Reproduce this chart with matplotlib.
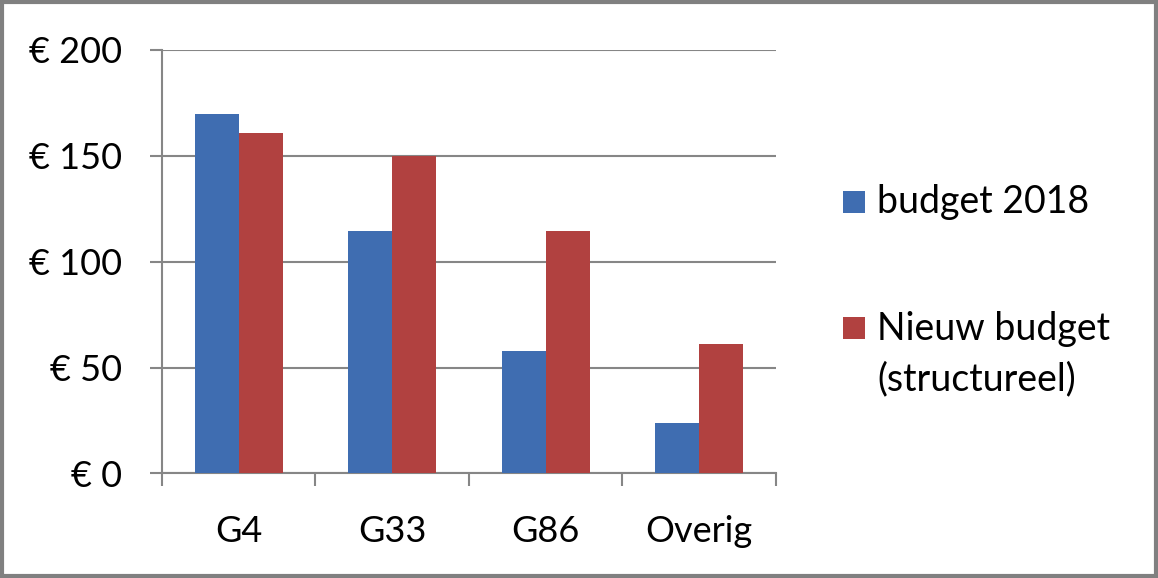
import matplotlib
matplotlib.use("Agg")
import matplotlib.pyplot as plt
import numpy as np
from matplotlib.patches import Rectangle

categories = ["G4", "G33", "G86", "Overig"]
budget_2018 = [170, 114.5, 58, 24]
nieuw_budget = [161, 150, 114.5, 61]
series_labels = ["budget 2018", "Nieuw budget\n(structureel)"]
y_ticks = [0, 50, 100, 150, 200]
y_tick_labels = ["€ 0", "€ 50", "€ 100", "€ 150", "€ 200"]

BLUE = "#3F6DB1"
RED = "#B14140"
GRID = "#868686"

plt.rcParams["font.family"] = ["Lato", "DejaVu Sans"]

W, H = 1158, 578
fig = plt.figure(figsize=(W / 100, H / 100), dpi=100)
ax = fig.add_axes([0.1399, 0.1808, 0.5302, 0.7327])

x = np.arange(len(categories))
w = 0.287
ax.bar(x - w / 2, budget_2018, width=w, color=BLUE, label=series_labels[0], zorder=3)
ax.bar(x + w / 2, nieuw_budget, width=w, color=RED, label=series_labels[1], zorder=3)

ax.set_xlim(-0.5, len(categories) - 0.5)
ax.set_ylim(0, 200)
ax.set_yticks(y_ticks)
ax.set_yticklabels(y_tick_labels)
ax.set_xticks(x)
ax.set_xticklabels(categories)
ax.set_xticks(np.arange(len(categories) + 1) - 0.5, minor=True)

ax.grid(axis="y", color=GRID, linewidth=1.5, zorder=0)
for s in ["top", "right"]:
    ax.spines[s].set_visible(False)
for s in ["left", "bottom"]:
    ax.spines[s].set_color(GRID)
    ax.spines[s].set_linewidth(1.5)

ax.tick_params(axis="y", length=9, width=1.5, color=GRID, pad=20, labelsize=26)
ax.tick_params(axis="x", which="major", length=0, pad=30, labelsize=26)
ax.tick_params(axis="x", which="minor", length=9, width=1.5, color=GRID)

# Legend drawn manually (square handles, Excel-like spacing)
legend_colors = [BLUE, RED]
sq_top = [191, 317]
baselines = [213, 340]
line_step = 50
for lab, col, top, base in zip(series_labels, legend_colors, sq_top, baselines):
    fig.patches.append(Rectangle((843 / W, 1 - (top + 22) / H), 22 / W, 22 / H,
                                 transform=fig.transFigure, facecolor=col,
                                 edgecolor="none"))
    for i, line in enumerate(lab.split("\n")):
        fig.text(877 / W, 1 - (base + i * line_step) / H, line, fontsize=27,
                 va="baseline", ha="left")

fig.patches.append(Rectangle((0.002, 0.004), 0.996, 0.992, transform=fig.transFigure,
                             fill=False, edgecolor="#808080", linewidth=3))

fig.savefig("out.png", dpi=100)
